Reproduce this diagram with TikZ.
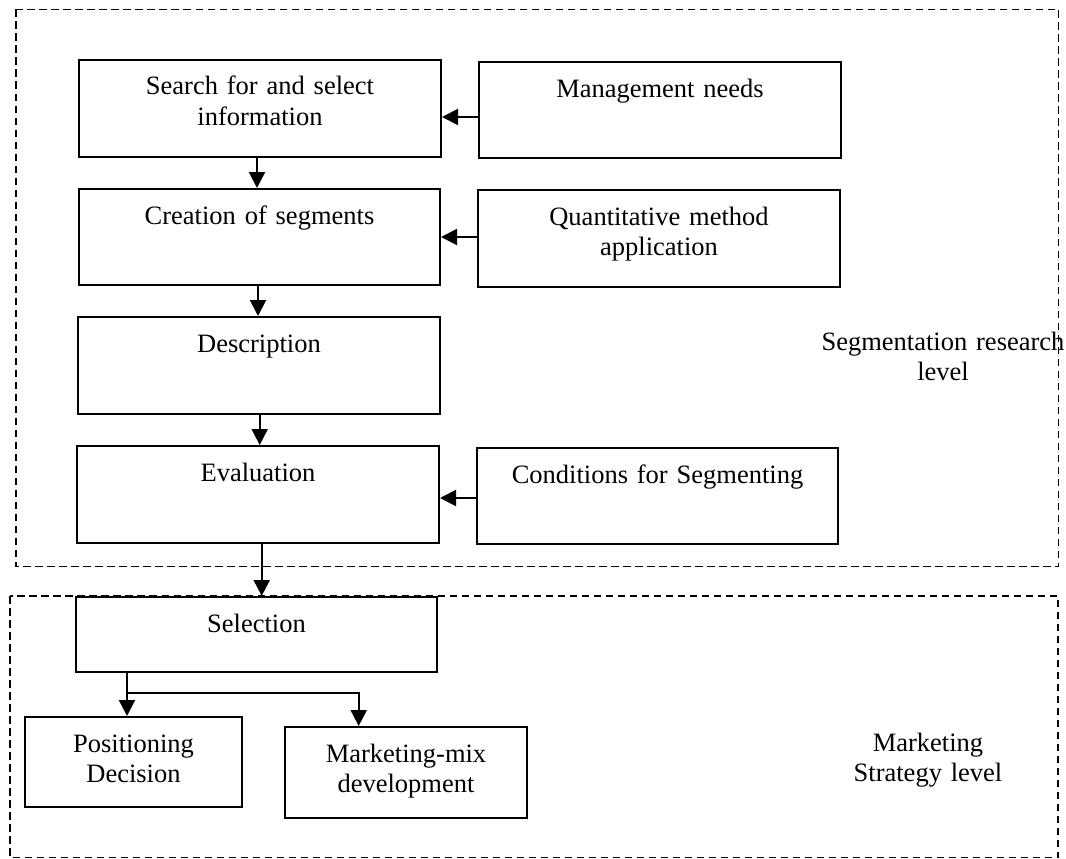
\documentclass[tikz,border=0pt]{standalone}
\usepackage{fontspec}
\setmainfont{Liberation Serif}
\usetikzlibrary{arrows.meta}
\begin{document}
\begin{tikzpicture}[x=1pt,y=-1pt,
  every node/.style={font=\fontsize{26.5}{30.5}\selectfont},
  box/.style={draw, line width=2pt, inner sep=0pt, anchor=north west,
    align=center, text height=35pt},
  lbl/.style={inner sep=0pt, align=center, anchor=base, text width=300pt},
  frame/.style={draw, line width=1.5pt, dash pattern=on 7.5pt off 4.5pt},
  arr/.style={draw, line width=2pt, -{Triangle[length=16pt,width=16pt]}},
  conn/.style={draw, line width=2pt}]
\useasboundingbox (0,0) rectangle (1066,859);
% level frames
\draw[frame] (16,9.5) rectangle (1058.5,566.5);
\draw[frame] (10,596) rectangle (1058,857.5);
% boxes
\node[box, text width=362pt, text depth=62pt] (search) at (78,59) {Search for and select\\information};
\node[box, text width=362pt, text depth=61pt] (mgmt) at (478,61) {Management needs};
\node[box, text width=361pt, text depth=61pt] (creation) at (78,188) {Creation of segments};
\node[box, text width=362pt, text depth=62pt] (quant) at (477,189) {Quantitative method\\application};
\node[box, text width=362pt, text depth=62pt] (desc) at (77,316) {Description};
\node[box, text width=362pt, text depth=62pt] (eval) at (76,445) {Evaluation};
\node[box, text width=361pt, text depth=61pt] (cond) at (476,447) {Conditions for Segmenting};
\node[box, text width=361pt, text depth=39.5pt] (sel) at (75,596) {Selection};
\node[box, text width=217pt, text depth=55pt] (pos) at (24,716) {Positioning\\Decision};
\node[box, text width=242pt, text depth=56pt] (mix) at (284,726) {Marketing-mix\\development};
% level labels
\node[lbl] (seglbl) at (943,350) {Segmentation research\\level};
\node[lbl] (mktlbl) at (928,751) {Marketing\\Strategy level};
% vertical flow
\draw[arr] ([xshift=-3pt]search.south) -- ([xshift=-3pt]search.south |- creation.north);
\draw[arr] ([xshift=-1.5pt]creation.south) -- ([xshift=-1.5pt]creation.south |- desc.north);
\draw[arr] ([xshift=0.7pt]desc.south) -- ([xshift=0.7pt]desc.south |- eval.north);
\draw[arr] ([xshift=3.7pt]eval.south) -- ([xshift=3.7pt]eval.south |- sel.north);
% inputs from the right
\coordinate (m1) at ([yshift=-7pt]mgmt.west);
\draw[arr] (m1) -- (search.east |- m1);
\coordinate (q1) at ([yshift=1.5pt]quant.west);
\draw[arr] (q1) -- (creation.east |- q1);
\coordinate (c1) at ([yshift=-2pt]cond.west);
\draw[arr] (c1) -- (eval.east |- c1);
% selection branches
\coordinate (s1) at ([xshift=-129.5pt]sel.south);
\coordinate (br) at (357.7,693);
\draw[arr] (s1) -- (s1 |- pos.north);
\draw[arr] (s1 |- br) -| ([xshift=-47.3pt]mix.north);
\end{tikzpicture}
\end{document}
